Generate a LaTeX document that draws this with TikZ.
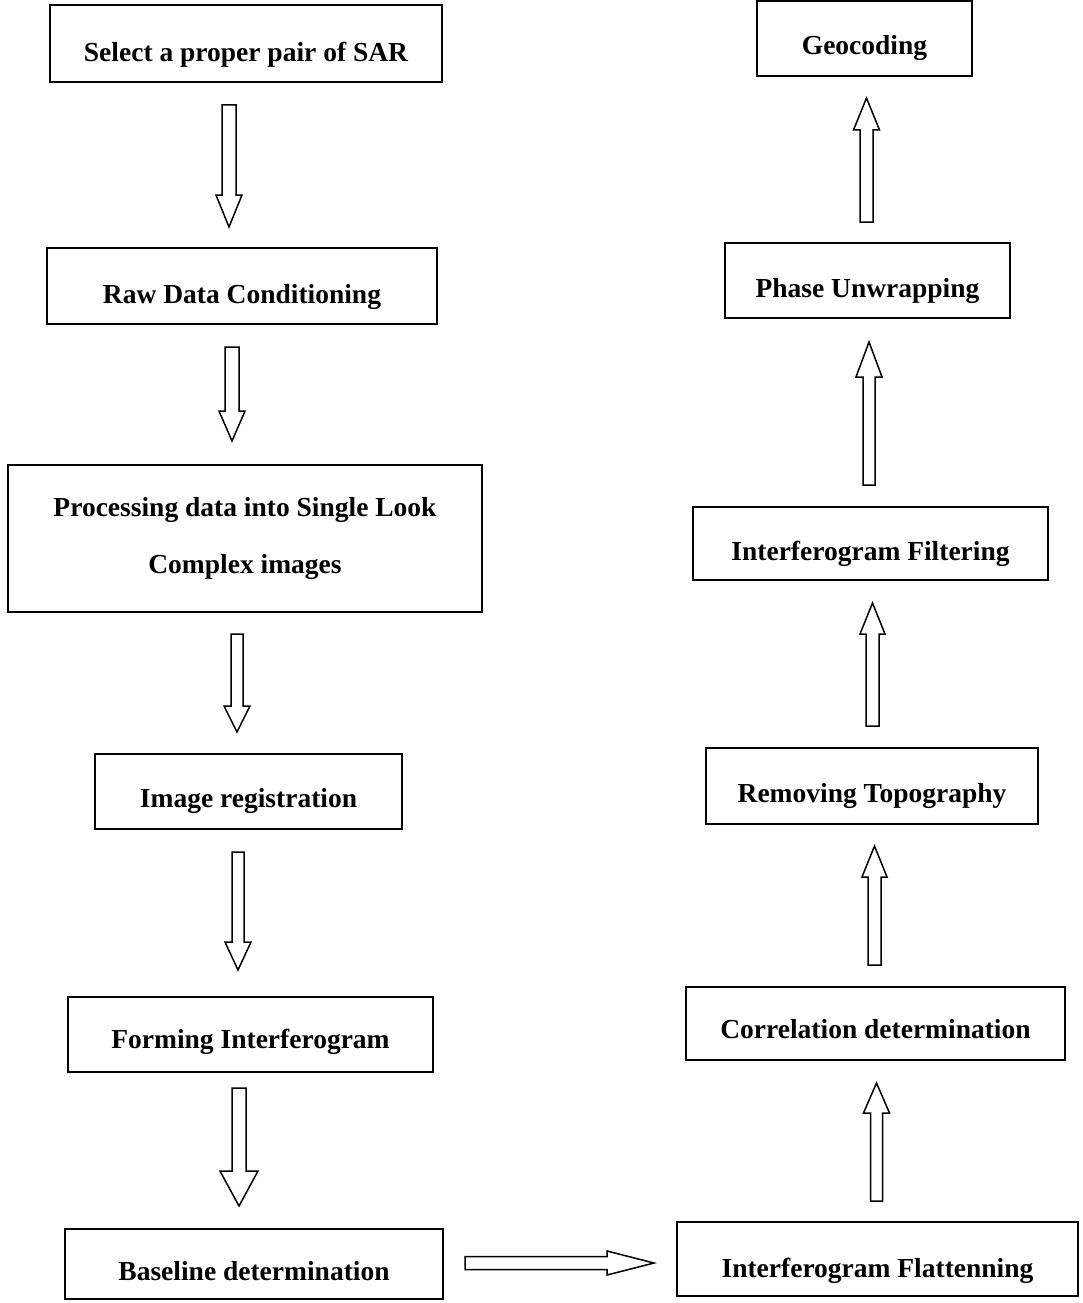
\documentclass[tikz,border=0pt]{standalone}
\usepackage{fontspec}
\setmainfont{Liberation Serif}
\usetikzlibrary{calc}
\tikzset{
  stepbox/.style={draw, line width=1.7pt, inner sep=0pt, align=center,
    font=\fontsize{27.5}{57}\selectfont\bfseries, text depth=0pt},
  blk/.style={draw, line width=1.5pt, line join=miter, fill=white},
}
% vertical block arrow: #1 start, #2 tip, #3 dy of head base from tip, #4 half head width, #5 half shaft width
\newcommand{\BArrV}[5]{%
  \draw[blk] ($(#1)+(-#5,0)$) -- ($(#2)+(-#5,#3)$) -- ($(#2)+(-#4,#3)$) -- (#2)
    -- ($(#2)+(#4,#3)$) -- ($(#2)+(#5,#3)$) -- ($(#1)+(#5,0)$) -- cycle;}
% horizontal block arrow
\newcommand{\BArrH}[5]{%
  \draw[blk] ($(#1)+(0,-#5)$) -- ($(#2)+(#3,-#5)$) -- ($(#2)+(#3,-#4)$) -- (#2)
    -- ($(#2)+(#3,#4)$) -- ($(#2)+(#3,#5)$) -- ($(#1)+(0,#5)$) -- cycle;}
\begin{document}
\begin{tikzpicture}[x=1pt,y=-1pt]
\useasboundingbox[fill=white] (0,0) rectangle (1082,1303);

% left column
\node[stepbox, minimum width=392pt, minimum height=77pt, text height=37pt] (sel) at (246,43.5) {Select a proper pair of SAR};
\node[stepbox, minimum width=390pt, minimum height=76pt, text height=34pt] (raw) at (242,286) {Raw Data Conditioning};
\node[draw, line width=1.7pt, inner sep=0pt, align=center, font=\fontsize{27.5}{57}\selectfont\bfseries,
      minimum width=474pt, minimum height=147pt] (proc) at (245,538.5) {Processing data into Single Look\\Complex images};
\node[stepbox, minimum width=307pt, minimum height=75pt, text height=31pt] (img) at (248.5,791.5) {Image registration};
\node[stepbox, minimum width=365pt, minimum height=75pt, text height=27pt] (form) at (250.5,1034.5) {Forming Interferogram};
\node[stepbox, minimum width=378pt, minimum height=70pt, text height=32pt] (base) at (254,1264) {Baseline determination};

% right column
\node[stepbox, minimum width=215pt, minimum height=75pt, text height=33pt] (geo) at (864.5,38.5) {Geocoding};
\node[stepbox, minimum width=285pt, minimum height=75pt, text height=33pt] (phase) at (867.5,280.5) {Phase Unwrapping};
\node[stepbox, minimum width=355pt, minimum height=73pt, text height=33pt] (filt) at (870.5,543.5) {Interferogram Filtering};
\node[stepbox, minimum width=332pt, minimum height=76pt, text height=32pt] (remv) at (872,786) {Removing Topography};
\node[stepbox, minimum width=379pt, minimum height=73pt, text height=29pt] (corr) at (875.5,1023.5) {Correlation determination};
\node[stepbox, minimum width=401pt, minimum height=74pt, text height=36pt] (flat) at (877.5,1259) {Interferogram Flattenning};

% arrow end points
\coordinate (a1s) at (229,105);   \coordinate (a1t) at (229,227);
\coordinate (a2s) at (232,347);   \coordinate (a2t) at (232,441);
\coordinate (a3s) at (237,634);   \coordinate (a3t) at (237,732);
\coordinate (a4s) at (238,852);   \coordinate (a4t) at (238,970);
\coordinate (a5s) at (239,1088);  \coordinate (a5t) at (239,1206);
\coordinate (rs) at (465,1263);   \coordinate (rt) at (654,1263);
\coordinate (u1s) at (876.5,1201); \coordinate (u1t) at (876.5,1083);
\coordinate (u2s) at (874.5,965);  \coordinate (u2t) at (874.5,846);
\coordinate (u3s) at (872.5,726);  \coordinate (u3t) at (872.5,603);
\coordinate (u4s) at (869,485);    \coordinate (u4t) at (869,342);
\coordinate (u5s) at (866.5,222);  \coordinate (u5t) at (866.5,98);

% down arrows (left)
\BArrV{a1s}{a1t}{-32}{13}{7}
\BArrV{a2s}{a2t}{-30}{13}{7}
\BArrV{a3s}{a3t}{-26}{13}{6}
\BArrV{a4s}{a4t}{-28}{13}{6}
\BArrV{a5s}{a5t}{-35}{19}{7}
% right arrow
\BArrH{rs}{rt}{-47}{12}{6.5}
% up arrows (right)
\BArrV{u1s}{u1t}{30}{13}{6}
\BArrV{u2s}{u2t}{31}{12.5}{6.5}
\BArrV{u3s}{u3t}{31}{12.5}{6.5}
\BArrV{u4s}{u4t}{35}{13}{6}
\BArrV{u5s}{u5t}{32}{13}{6.5}
\end{tikzpicture}
\end{document}
